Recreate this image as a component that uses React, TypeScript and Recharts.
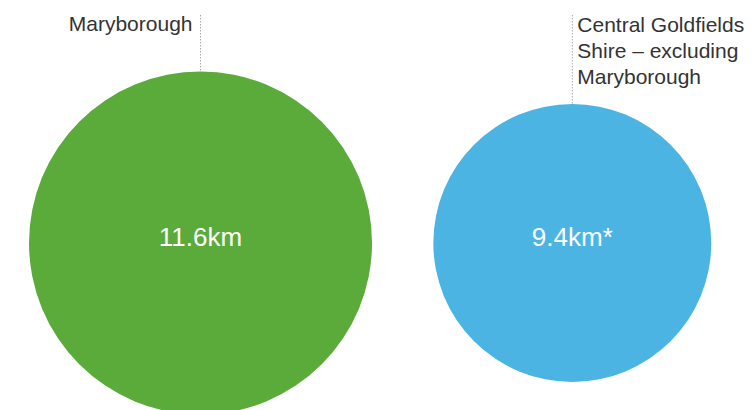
import { ScatterChart, Scatter, XAxis, YAxis, ZAxis } from "recharts";

// one entry per area
const regions = ["Maryborough", "Central Goldfields Shire – excluding Maryborough"];
const labelLines = [["Maryborough"], ["Central Goldfields", "Shire – excluding", "Maryborough"]];
const distanceKm = [11.6, 9.4];
const valueLabels = ["11.6km", "9.4km*"];

const COLORS = ["#5BAB3B", "#4BB4E3"];
const FONT = "'Liberation Sans', Arial, Helvetica, sans-serif";

const data = regions.map((name, i) => ({
  name,
  pos: i + 1,
  row: 0,
  km: distanceKm[i],
  idx: i,
}));

function Bubble(props: any) {
  const { cx, cy, size, payload } = props;
  const i = payload.idx;
  const r = size;
  const top = cy - r;
  const onLeft = i === 0;
  const lines = labelLines[i];

  return (
    <g>
      <line
        x1={cx}
        x2={cx}
        y1={15}
        y2={top}
        stroke="#a8a8a8"
        strokeWidth={1}
        strokeDasharray="1.5 1.5"
      />
      <circle cx={cx} cy={cy} r={r} fill={COLORS[i]} />
      <text
        x={cx}
        y={cy + 3}
        textAnchor="middle"
        fill="#ffffff"
        fontSize={26}
        fontFamily={FONT}
      >
        {valueLabels[i]}
      </text>
      {lines.map((t, k) => (
        <text
          key={k}
          x={onLeft ? cx - 8 : cx + 5}
          y={onLeft ? 31 : 32 + k * 26}
          textAnchor={onLeft ? "end" : "start"}
          fill="#333333"
          fontSize={21}
          fontFamily={FONT}
        >
          {t}
        </text>
      ))}
    </g>
  );
}

export default function App() {
  return (
    <div style={{ position: "absolute", left: 0, top: 0, background: "#fff" }}>
      <ScatterChart
        width={755}
        height={410}
        margin={{ top: 76, right: 0, bottom: 0, left: 0 }}
        style={{ overflow: "hidden" }}
      >
        <XAxis type="number" dataKey="pos" domain={[0.4607, 2.4914]} hide />
        <YAxis type="number" dataKey="row" domain={[-1, 1]} hide />
        <ZAxis type="number" dataKey="km" domain={[0, 11.6]} range={[0, 171.5]} />
        <Scatter
          data={data}
          isAnimationActive={false}
          shape={(p: any) => <Bubble {...p} />}
        />
      </ScatterChart>
    </div>
  );
}
